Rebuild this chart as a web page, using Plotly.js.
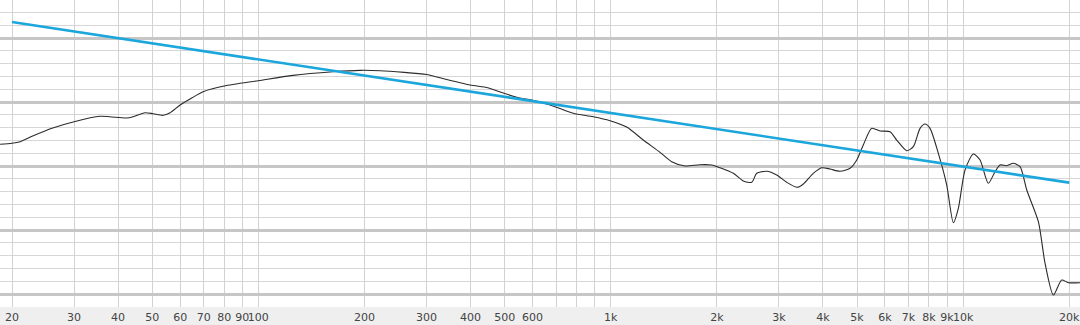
<!DOCTYPE html>
<html>
<head>
<meta charset="utf-8">
<script src="https://cdn.plot.ly/plotly-3.0.1.min.js"></script>
<style>html,body{margin:0;padding:0;background:#efefef}#chart{width:1080px;height:325px}</style>
</head>
<body>
<div id="chart"></div>
<script>
// Measured frequency response (Hz, dB)
const freq = [18.5,20,21.1,22.9,26.1,30,35.5,37.9,42.3,44.1,47.7,50.3,53.7,56.2,60,64.9,69.7,80,100,125.4,162.9,194.3,221.5,300,313,398.8,448,498,552.8,596.7,695,783,892,995.6,1110,1237,1380,1489,1625,1792,1934,2042,2228,2378,2512,2596,2772,2958,3158,3384,3520,3756,3970,4190,4474,4776,4990,5208,5502,5810,6202,6480,6918,7222,7546,7796,8054,8504,8984,9380,9692,10124,10690,11168,11790,12318,12728,13296,13884,14506,15154,16348,17078,18032,19040,19886,21460];
const response = [23.39,23.55,23.80,24.69,25.94,26.92,27.77,27.70,27.50,27.70,28.33,28.17,27.92,28.33,29.53,30.67,31.61,32.50,33.33,34.17,34.73,34.95,34.89,34.30,34.06,32.66,32.23,31.36,30.63,30.31,29.27,28.23,27.70,27.08,26.09,24.06,22.14,20.67,20.00,20.20,20.16,19.73,18.86,17.66,17.45,18.86,19.17,18.59,17.45,16.67,17.19,18.86,19.73,19.53,19.17,19.64,20.94,23.28,25.89,25.47,25.36,24.06,22.39,23.02,25.89,26.56,25.89,21.98,17.03,11.14,13.39,19.38,21.88,20.94,17.30,19.11,20.16,20.05,20.42,19.89,16.25,11.30,4.80,-0.16,2.19,1.77,1.77];
// Target (tilt) line
const targetFreq = [20,20000];
const targetDb = [42.5,17.4];
// X tick values and labels
const tickVals = [20,30,40,50,60,70,80,90,100,200,300,400,500,600,700,800,900,1000,2000,3000,4000,5000,6000,7000,8000,9000,10000,20000];
const tickText = ["20","30","40","50","60","70","80","90","100","200","300","400","500","600","","","","1k","2k","3k","4k","5k","6k","7k","8k","9k","10k","20k"];

const traces = [
  {x: freq, y: response, type:'scatter', mode:'lines',
   line:{color:'#2b2b2b', width:1.1, shape:'spline', smoothing:0.7}, hoverinfo:'skip'},
  {x: targetFreq, y: targetDb, type:'scatter', mode:'lines',
   line:{color:'#1ba6dc', width:2.6}, hoverinfo:'skip'}
];
const layout = {
  width:1080, height:325,
  margin:{l:0,r:0,t:0,b:18,pad:0},
  paper_bgcolor:'#efefef', plot_bgcolor:'#ffffff',
  showlegend:false,
  xaxis:{type:'log', range:[1.26698,4.3316], tickmode:'array', tickvals:tickVals, ticktext:tickText,
    showgrid:true, gridcolor:'#d2d2d2', gridwidth:1, zeroline:false, showline:false,
    ticks:'', tickangle:0, ticklabeloverflow:'allow', automargin:false, ticklabelstandoff:2,
    tickfont:{family:'DejaVu Sans, Verdana, sans-serif', size:11, color:'#444'}},
  yaxis:{range:[-2.03,45.94], tick0:0, dtick:10, showticklabels:false, zeroline:false, showline:false,
    showgrid:true, gridcolor:'#c6c6c6', gridwidth:3,
    minor:{tick0:0, dtick:2, showgrid:true, gridcolor:'#d6d6d6', gridwidth:1}},
  font:{family:'DejaVu Sans, Verdana, sans-serif'}
};
Plotly.newPlot('chart', traces, layout, {staticPlot:true, displayModeBar:false});
</script>
</body>
</html>
